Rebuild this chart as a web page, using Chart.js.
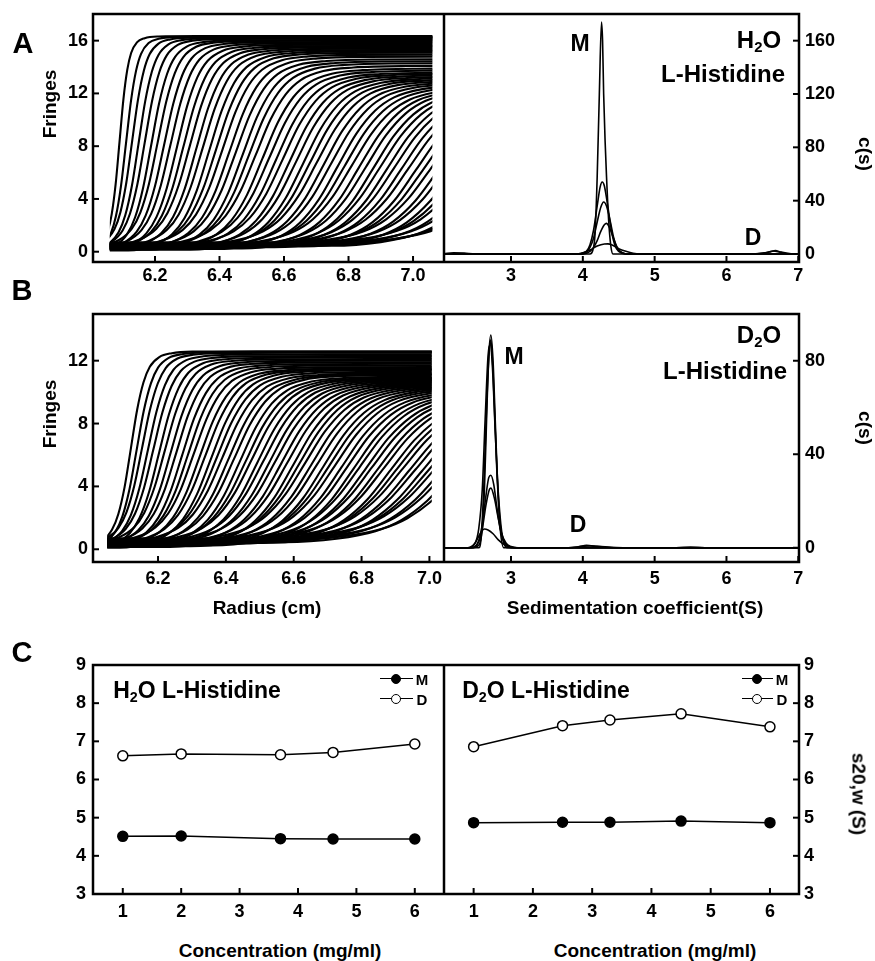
<!DOCTYPE html>
<html>
<head>
<meta charset="utf-8">
<script src="https://cdn.jsdelivr.net/npm/chart.js@4.4.1/dist/chart.umd.min.js"></script>
<style>
  body { margin: 0; background: #fff; }
  #fig { position: relative; width: 875px; height: 961px; overflow: hidden;
         font-family: 'Liberation Sans', Arial, sans-serif; font-weight: bold; color: #000; }
  #fig canvas { position: absolute; }
  .lbl { position: absolute; line-height: 1; white-space: nowrap; transform: translate(-50%, -50%); }
  .lbl sub { font-size: 0.62em; vertical-align: -0.3em; line-height: 0; }
  .leg-line { position: absolute; height: 0; border-top: 1.5px solid #000; }
  .leg-dot { position: absolute; width: 8px; height: 8px; border: 1.5px solid #000; border-radius: 50%; }
</style>
</head>
<body>
<div id="fig"></div>
<script>
// ---- fringe scans: one row per scan [boundary midpoint (cm), boundary width (cm), plateau (fringes), baseline (fringes)]
const scansH2O = [
  [6.090,0.060,16.35,0.30],[6.110,0.078,16.30,0.10],[6.129,0.091,16.25,0.45],[6.149,0.103,16.20,0.20],
  [6.168,0.114,16.15,0.35],[6.188,0.124,16.05,0.05],[6.208,0.133,16.00,0.50],[6.228,0.142,15.90,0.25],
  [6.248,0.150,15.80,0.40],[6.268,0.158,15.70,0.15],[6.288,0.166,15.60,0.30],[6.308,0.173,15.50,0.55],
  [6.328,0.180,15.40,0.20],[6.348,0.186,15.30,0.45],[6.368,0.193,15.20,0.10],[6.389,0.199,15.10,0.35],
  [6.409,0.205,14.95,0.50],[6.430,0.211,14.80,0.25],[6.450,0.217,14.60,0.40],[6.471,0.222,14.45,0.15],
  [6.491,0.228,14.30,0.30],[6.512,0.233,14.10,0.55],[6.533,0.239,13.90,0.20],[6.554,0.244,13.75,0.45],
  [6.575,0.249,13.60,0.30],[6.596,0.254,13.50,0.50],[6.617,0.259,13.40,0.25],[6.638,0.264,13.30,0.40],
  [6.659,0.269,13.20,0.15],[6.680,0.273,13.10,0.35],[6.702,0.278,13.00,0.55],[6.723,0.283,12.90,0.30],
  [6.745,0.287,12.80,0.45],[6.766,0.292,12.70,0.20],[6.788,0.296,12.60,0.40],[6.810,0.301,12.50,0.55],
  [6.832,0.305,12.45,0.30],[6.854,0.309,12.40,0.45],[6.876,0.313,12.35,0.25],[6.898,0.318,12.30,0.50],
  [6.920,0.322,12.25,0.35],[6.942,0.326,12.20,0.55],[6.964,0.330,12.15,0.40],[6.987,0.334,12.10,0.60],
  [7.009,0.338,12.05,0.35],[7.032,0.342,12.00,0.50],[7.055,0.346,11.95,0.65],[7.078,0.350,11.90,0.45],
  [7.101,0.354,11.85,0.60],[7.124,0.358,11.80,0.40],[7.147,0.362,11.75,0.55],[7.170,0.366,11.70,0.70],
  [7.193,0.369,11.65,0.50],[7.216,0.373,11.60,0.65],[7.239,0.377,11.55,0.45],[7.262,0.380,11.50,0.60],
  [7.285,0.384,11.45,0.70]
];
const scansD2O = [
  [6.120,0.093,12.60,0.25],[6.137,0.105,12.55,0.10],[6.153,0.116,12.50,0.40],[6.170,0.126,12.40,0.20],
  [6.186,0.135,12.30,0.35],[6.203,0.144,12.20,0.05],[6.220,0.152,12.10,0.45],[6.237,0.160,12.00,0.25],
  [6.254,0.167,11.90,0.40],[6.271,0.175,11.80,0.15],[6.288,0.181,11.70,0.30],[6.305,0.188,11.60,0.50],
  [6.322,0.195,11.50,0.20],[6.339,0.201,11.45,0.40],[6.356,0.207,11.40,0.10],[6.373,0.213,11.30,0.35],
  [6.390,0.218,11.20,0.50],[6.407,0.224,11.15,0.25],[6.424,0.229,11.10,0.40],[6.441,0.235,11.00,0.15],
  [6.459,0.240,10.95,0.30],[6.476,0.245,10.90,0.50],[6.493,0.250,10.85,0.20],[6.511,0.255,10.80,0.45],
  [6.528,0.260,10.75,0.30],[6.546,0.265,10.70,0.50],[6.563,0.270,10.65,0.25],[6.581,0.274,10.60,0.40],
  [6.598,0.279,10.55,0.15],[6.616,0.283,10.50,0.35],[6.634,0.288,10.45,0.55],[6.651,0.292,10.40,0.30],
  [6.669,0.297,10.35,0.45],[6.687,0.301,10.30,0.20],[6.705,0.305,10.25,0.40],[6.723,0.309,10.20,0.55],
  [6.741,0.314,10.15,0.30],[6.759,0.318,10.10,0.45],[6.777,0.322,10.05,0.25],[6.795,0.326,10.00,0.50],
  [6.813,0.330,9.95,0.35],[6.831,0.334,9.90,0.55],[6.849,0.338,9.85,0.40],[6.867,0.341,9.80,0.60],
  [6.886,0.345,9.75,0.35],[6.904,0.349,9.70,0.50],[6.922,0.353,9.65,0.65],[6.941,0.357,9.60,0.45],
  [6.959,0.360,9.55,0.60],[6.977,0.364,9.50,0.40],[6.996,0.368,9.45,0.55],[7.014,0.371,9.40,0.70],
  [7.033,0.375,9.35,0.50],[7.051,0.378,9.30,0.65],[7.070,0.382,9.25,0.45],[7.089,0.385,9.20,0.60]
];
// boundary profile: offset in boundary widths -> fraction of plateau
const boundaryOffsets = [-1.3, -0.9, -0.6, -0.4, -0.2, 0, 0.2, 0.4, 0.6, 0.9, 1.3, 2.0, 4.0];
const boundaryShape   = [0, 0.025, 0.08, 0.16, 0.3, 0.5, 0.7, 0.84, 0.92, 0.97, 0.99, 0.998, 1];
const cellH2O = [6.06, 7.06];   // meniscus .. end of data (cm)
const cellD2O = [6.05, 7.007];

// ---- c(s) distributions, [s, c(s)] pairs
const csH2O = [
  [[2.07,0],[4.10,0],[4.14,3],[4.17,15],[4.20,58],[4.23,120],[4.26,174],[4.275,160],[4.29,120],[4.31,85],[4.33,58],[4.36,25],[4.39,6],[4.42,0],[7.0,0]],
  [[2.07,0],[3.95,0],[4.05,2],[4.10,7],[4.15,18],[4.20,36],[4.24,50],[4.27,54],[4.30,51],[4.35,35],[4.40,17],[4.45,6],[4.50,2],[4.60,0],[6.40,0],[6.55,1],[6.65,2.2],[6.75,1.2],[6.88,0],[7.0,0]],
  [[2.07,0.3],[2.2,0.9],[2.35,0.7],[2.5,0],[3.95,0],[4.05,1.5],[4.10,5],[4.15,12],[4.20,24],[4.25,35],[4.29,39],[4.33,36],[4.38,25],[4.43,12],[4.48,4],[4.55,1],[4.65,0],[6.3,0],[6.5,0.6],[6.62,1.8],[6.68,2.5],[6.76,1.4],[6.9,0.2],[7.0,0]],
  [[2.07,0],[4.0,0],[4.10,2],[4.15,5],[4.20,10],[4.25,17],[4.30,22],[4.33,23],[4.37,20],[4.42,13],[4.47,6],[4.52,2],[4.60,0],[7.0,0]],
  [[2.07,0],[3.9,0],[4.0,1],[4.1,3],[4.2,6],[4.3,7.5],[4.35,7.6],[4.4,7],[4.5,4],[4.6,2],[4.7,0.5],[4.8,0],[7.0,0]]
];
const csD2O = [
  [[2.07,0],[2.45,0],[2.55,1],[2.60,8],[2.63,25],[2.66,55],[2.69,82],[2.72,91],[2.75,80],[2.78,55],[2.81,30],[2.85,10],[2.90,2],[2.95,0],[7.0,0]],
  [[2.07,0],[2.40,0],[2.50,2],[2.55,8],[2.60,25],[2.64,55],[2.68,82],[2.71,87],[2.74,78],[2.78,50],[2.82,25],[2.87,7],[2.93,1],[3.0,0],[3.8,0],[3.95,0.5],[4.05,1.0],[4.2,0.6],[4.4,0.2],[4.6,0],[7.0,0]],
  [[2.07,0],[2.55,0],[2.58,3],[2.62,25],[2.66,60],[2.70,85],[2.72,89],[2.75,75],[2.80,35],[2.85,8],[2.90,0],[7.0,0]],
  [[2.07,0],[2.45,0],[2.55,3],[2.60,10],[2.65,22],[2.69,30],[2.72,31],[2.76,27],[2.80,18],[2.85,8],[2.90,3],[2.97,0.5],[3.05,0],[3.8,0],[4.0,0.6],[4.1,0.8],[4.3,0.3],[4.5,0],[7.0,0]],
  [[2.07,0],[2.45,0],[2.55,2.5],[2.60,8],[2.65,18],[2.70,25],[2.72,25.5],[2.77,21],[2.82,13],[2.87,6],[2.93,2],[3.00,0.5],[3.08,0],[5.3,0],[5.5,0.3],[5.7,0],[7.0,0]],
  [[2.07,0],[2.40,0],[2.50,2],[2.57,6],[2.63,8],[2.68,7.6],[2.75,6],[2.82,3.5],[2.90,1.5],[3.00,0.3],[3.10,0],[7.0,0]]
];

// ---- s20,w vs concentration
const concH2O = [1, 2, 3.7, 4.6, 6];
const monomerH2O = [4.51, 4.52, 4.45, 4.44, 4.44];
const dimerH2O = [6.62, 6.67, 6.65, 6.71, 6.93];
const concD2O = [1, 2.5, 3.3, 4.5, 6];
const monomerD2O = [4.87, 4.88, 4.88, 4.91, 4.87];
const dimerD2O = [6.86, 7.41, 7.56, 7.72, 7.38];

// ---- ticks
const radiusTicks = [6.2, 6.4, 6.6, 6.8, 7.0];
const fringeTicksH2O = [0, 4, 8, 12, 16];
const fringeTicksD2O = [0, 4, 8, 12];
const sedTicks = [3, 4, 5, 6, 7];
const csTicksH2O = [0, 40, 80, 120, 160];
const csTicksD2O = [0, 40, 80];
const concTicks = [1, 2, 3, 4, 5, 6];
const s20Ticks = [3, 4, 5, 6, 7, 8, 9];

Chart.defaults.font.family = "'Liberation Sans', Arial, sans-serif";
Chart.defaults.font.size = 18;
Chart.defaults.font.weight = 'bold';
Chart.defaults.color = '#000';

const fig = document.getElementById('fig');

function scanDataset(row) {
  const [mid, width, plateau, base] = row;
  const pts = [{ x: 5.8, y: base }];
  boundaryOffsets.forEach((u, k) => {
    pts.push({ x: mid + u * width, y: base + (plateau - base) * boundaryShape[k] });
  });
  pts.push({ x: Math.max(7.6, mid + 5 * width), y: plateau });
  return { data: pts, borderColor: '#000', borderWidth: 2.1, pointRadius: 0,
           cubicInterpolationMode: 'monotone' };
}

function csDataset(pairs) {
  return { data: pairs.map(p => ({ x: p[0], y: p[1] })), borderColor: '#000', borderWidth: 1.6,
           pointRadius: 0, cubicInterpolationMode: 'monotone' };
}

function concDataset(xs, ys, fill) {
  return { data: xs.map((x, i) => ({ x: x, y: ys[i] })), borderColor: '#000', borderWidth: 1.5,
           pointRadius: 5, pointBackgroundColor: fill, pointBorderColor: '#000', pointBorderWidth: 1.5 };
}

// box and inward tick marks
const framePlugin = {
  id: 'frame',
  afterDraw(chart) {
    const { ctx, chartArea: a } = chart;
    ctx.save();
    ctx.strokeStyle = '#000';
    ctx.lineWidth = 2.5;
    ctx.strokeRect(a.left, a.top, a.right - a.left, a.bottom - a.top);
    ctx.lineWidth = 2;
    Object.values(chart.scales).forEach(s => {
      s.ticks.forEach(t => {
        const p = s.getPixelForValue(t.value);
        ctx.beginPath();
        if (s.isHorizontal()) { ctx.moveTo(p, a.bottom); ctx.lineTo(p, a.bottom - 6); }
        else if (s.position === 'left') { ctx.moveTo(a.left, p); ctx.lineTo(a.left + 6, p); }
        else { ctx.moveTo(a.right, p); ctx.lineTo(a.right - 6, p); }
        ctx.stroke();
      });
    });
    ctx.restore();
  }
};

// only draw scans between meniscus and the end of the data
function cellWindow(range) {
  return {
    id: 'cellWindow',
    beforeDatasetsDraw(chart) {
      const xs = chart.scales.x, a = chart.chartArea, ctx = chart.ctx;
      const x0 = xs.getPixelForValue(range[0]), x1 = xs.getPixelForValue(range[1]);
      ctx.save();
      ctx.beginPath();
      ctx.rect(x0, a.top, x1 - x0, a.bottom - a.top);
      ctx.clip();
    },
    afterDatasetsDraw(chart) { chart.ctx.restore(); }
  };
}

function noPadding(s) {
  s.paddingLeft = 0; s.paddingRight = 0; s.paddingTop = 0; s.paddingBottom = 0;
}

function panel(cfg) {
  const c = document.createElement('canvas');
  c.width = cfg.w; c.height = cfg.h;
  c.style.left = cfg.left + 'px'; c.style.top = cfg.top + 'px';
  c.style.width = cfg.w + 'px'; c.style.height = cfg.h + 'px';
  fig.appendChild(c);
  const onRight = cfg.yPos === 'right';
  const yWidth = onRight ? cfg.left + cfg.w - cfg.box[2] : cfg.box[0] - cfg.left;
  const xHeight = cfg.top + cfg.h - cfg.box[3];
  new Chart(c, {
    type: 'line',
    data: { datasets: cfg.datasets },
    options: {
      responsive: false, maintainAspectRatio: false, animation: false, events: [],
      layout: { autoPadding: false, padding: { top: cfg.box[1] - cfg.top, left: 0, right: 0, bottom: 0 } },
      plugins: { legend: { display: false }, tooltip: { enabled: false } },
      scales: {
        x: {
          type: 'linear', min: cfg.x[0], max: cfg.x[1],
          grid: { display: false, drawTicks: false }, border: { display: false },
          afterFit: s => { s.height = xHeight; noPadding(s); },
          afterBuildTicks: s => { s.ticks = cfg.xTicks.map(v => ({ value: v })); },
          ticks: { padding: cfg.xPad, maxRotation: 0, autoSkip: false, callback: cfg.xFmt || (v => String(v)) }
        },
        y: {
          type: 'linear', position: cfg.yPos, min: cfg.y[0], max: cfg.y[1],
          grid: { display: false, drawTicks: false }, border: { display: false },
          afterFit: s => { s.width = yWidth; noPadding(s); },
          afterBuildTicks: s => { s.ticks = cfg.yTicks.map(v => ({ value: v })); },
          ticks: { padding: cfg.yPad, autoSkip: false, callback: v => String(v) }
        }
      }
    },
    plugins: [framePlugin].concat(cfg.plugins || [])
  });
}

const oneDecimal = v => v.toFixed(1);

// A
panel({ left: 0, top: 0, w: 444, h: 300, box: [93, 14, 444, 262], yPos: 'left',
  x: [6.0078, 7.096], y: [-0.78, 18.02], xTicks: radiusTicks, yTicks: fringeTicksH2O, xFmt: oneDecimal,
  xPad: 3, yPad: 5, datasets: scansH2O.map(scanDataset), plugins: [cellWindow(cellH2O)] });
panel({ left: 444, top: 0, w: 431, h: 300, box: [444, 14, 799, 262], yPos: 'right',
  x: [2.067, 7.01], y: [-6, 180], xTicks: sedTicks, yTicks: csTicksH2O,
  xPad: 3, yPad: 6, datasets: csH2O.map(csDataset) });
// B
panel({ left: 0, top: 300, w: 444, h: 300, box: [93, 314, 444, 562], yPos: 'left',
  x: [6.0083, 7.043], y: [-0.81, 14.97], xTicks: radiusTicks, yTicks: fringeTicksD2O, xFmt: oneDecimal,
  xPad: 6, yPad: 5, datasets: scansD2O.map(scanDataset), plugins: [cellWindow(cellD2O)] });
panel({ left: 444, top: 300, w: 431, h: 300, box: [444, 314, 799, 562], yPos: 'right',
  x: [2.067, 7.01], y: [-6.1, 100], xTicks: sedTicks, yTicks: csTicksD2O,
  xPad: 6, yPad: 6, datasets: csD2O.map(csDataset) });
// C
panel({ left: 0, top: 640, w: 444, h: 285, box: [93, 665, 444, 894], yPos: 'left',
  x: [0.49, 6.5], y: [3, 9], xTicks: concTicks, yTicks: s20Ticks, xPad: 7, yPad: 7,
  datasets: [concDataset(concH2O, monomerH2O, '#000'), concDataset(concH2O, dimerH2O, '#fff')] });
panel({ left: 444, top: 640, w: 431, h: 285, box: [444, 665, 799, 894], yPos: 'right',
  x: [0.5, 6.49], y: [3, 9], xTicks: concTicks, yTicks: s20Ticks, xPad: 7, yPad: 5,
  datasets: [concDataset(concD2O, monomerD2O, '#000'), concDataset(concD2O, dimerD2O, '#fff')] });

// ---- text
function text(html, x, y, size, rot) {
  const d = document.createElement('div');
  d.className = 'lbl';
  d.innerHTML = html;
  d.style.left = x + 'px'; d.style.top = y + 'px';
  d.style.fontSize = size + 'px';
  if (rot) d.style.transform = 'translate(-50%, -50%) rotate(' + rot + 'deg)';
  fig.appendChild(d);
}
text('A', 23, 43, 29); text('B', 22, 290, 29); text('C', 22, 652, 29);
text('Fringes', 48.5, 104, 19, -90); text('Fringes', 49, 414, 19, -90);
text('c(s)', 865, 154, 19, 90); text('c(s)', 865, 428, 19, 90);
text('s20,w (S)', 859, 794, 19, 90);
text('Radius (cm)', 267, 607, 19);
text('Sedimentation coefficient(S)', 635, 607, 19);
text('Concentration (mg/ml)', 280, 950, 19);
text('Concentration (mg/ml)', 655, 950, 19);
text('M', 580, 43, 23); text('H<sub>2</sub>O', 759, 40, 24); text('L-Histidine', 723, 74, 24); text('D', 753, 237, 23);
text('D<sub>2</sub>O', 759, 335, 24); text('L-Histidine', 725, 371, 24); text('M', 514, 356, 23); text('D', 578, 524, 23);
text('H<sub>2</sub>O L-Histidine', 197, 690, 23);
text('D<sub>2</sub>O L-Histidine', 546, 690, 23);

function legendRow(x0, x1, y, fill, label) {
  const l = document.createElement('div');
  l.className = 'leg-line';
  l.style.left = x0 + 'px'; l.style.top = (y - 0.75) + 'px'; l.style.width = (x1 - x0) + 'px';
  fig.appendChild(l);
  const d = document.createElement('div');
  d.className = 'leg-dot';
  d.style.left = ((x0 + x1) / 2 - 5.5) + 'px'; d.style.top = (y - 5.5) + 'px'; d.style.background = fill;
  fig.appendChild(d);
  text(label, x1 + 9, y, 15);
}
legendRow(380, 413, 679, '#000', 'M'); legendRow(380, 413, 699, '#fff', 'D');
legendRow(742, 773, 679, '#000', 'M'); legendRow(742, 773, 699, '#fff', 'D');
</script>
</body>
</html>
